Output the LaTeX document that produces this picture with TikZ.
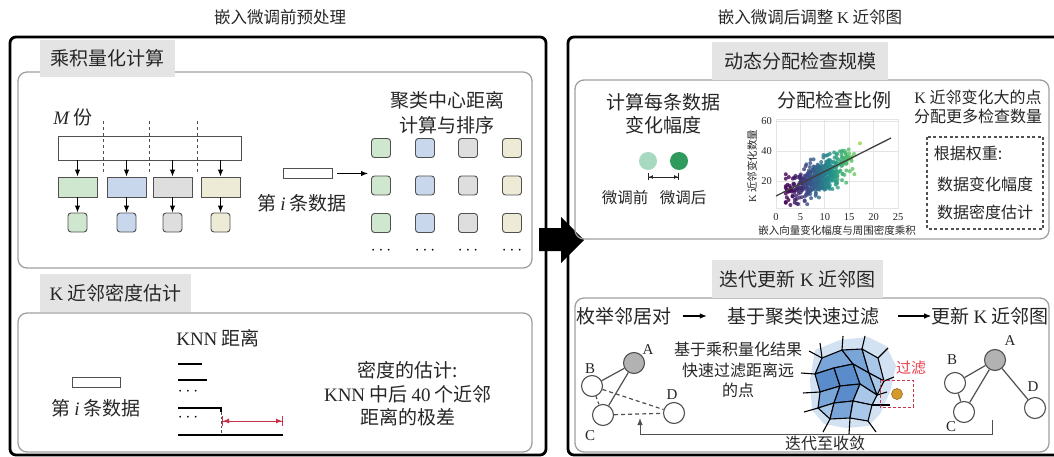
\documentclass[tikz,border=0pt]{standalone}
\usepackage{fontspec}
\setmainfont{Liberation Serif}
\newfontfamily\cjk{Noto Sans CJK SC}
\usetikzlibrary{arrows.meta,calc}
\newcommand{\setfs}[2]{\fontsize{#1}{#2}\selectfont}
\newcommand{\latrm}[1]{{\rmfamily #1}}
\newcommand{\latit}[1]{{\rmfamily\itshape #1}}
\definecolor{txt}{HTML}{262626}
\definecolor{labbg}{HTML}{E4E4E4}
\definecolor{boxgray}{HTML}{A0A0A0}
\definecolor{edgegray}{HTML}{505050}
\definecolor{cgreen}{HTML}{CFE6CF}
\definecolor{cblue}{HTML}{C9D7EC}
\definecolor{cgray}{HTML}{DEDEDE}
\definecolor{cyellow}{HTML}{EDEBD6}
\definecolor{vir0}{HTML}{440154}
\definecolor{vir1}{HTML}{3B528B}
\definecolor{vir2}{HTML}{21918C}
\definecolor{vir3}{HTML}{5EC962}
\definecolor{vir4}{HTML}{FDE725}
\definecolor{ltgreen}{HTML}{A6D9C0}
\definecolor{dkgreen}{HTML}{2E9A5C}
\definecolor{redc}{HTML}{C8324A}
\definecolor{redtxt}{HTML}{E8424F}
\definecolor{vdark}{HTML}{5A8CCB}
\definecolor{vmid}{HTML}{7AA5D8}
\definecolor{vlight}{HTML}{A9C7E9}
\definecolor{vhalo}{HTML}{D2E2F3}
\definecolor{orangedot}{HTML}{D59A2A}
\definecolor{gridc}{HTML}{E4E4E4}
\begin{document}
\begin{tikzpicture}[x=1pt,y=-1pt,
  outerbox/.style={draw=black, line width=2.8pt, rounded corners=6pt},
  innerbox/.style={draw=boxgray, line width=1.3pt, rounded corners=9pt},
  seclabel/.style={fill=labbg, inner sep=0, text=txt, font=\cjk\setfs{19}{23}},
  zh/.style={inner sep=0, text=txt, font=\cjk\setfs{19}{23}, align=center},
  zhs/.style={inner sep=0, text=txt, font=\cjk\setfs{16}{20}, align=center},
  sq/.style={draw=edgegray, line width=0.9pt, rounded corners=3pt, minimum width=19pt, minimum height=19pt, inner sep=0},
  barbox/.style={draw=edgegray, line width=0.9pt, minimum width=39pt, minimum height=20pt, inner sep=0},
  arr/.style={-{Latex[length=7pt,width=5.5pt]}, line width=1.1pt, draw=black},
  dotsn/.style={inner sep=0, font=\setfs{16}{16}},
  gnode/.style={circle, draw=edgegray, line width=1.1pt, minimum size=21pt, inner sep=0, fill=white},
  glab/.style={inner sep=0, text=txt, font=\setfs{15}{15}},
  gedge/.style={draw=edgegray, line width=1.2pt},
  tick/.style={inner sep=0, text=txt, font=\setfs{10.5}{10.5}},
  thickln/.style={line width=1.8pt, draw=black}
]
\useasboundingbox (0,0) rectangle (1054,457);
\fill[white] (0,0) rectangle (1054,457);

% titles
\node[inner sep=0, text=txt, font=\cjk\setfs{16.5}{16.5}] (t1) at (280,17) {嵌入微调前预处理};
\node[inner sep=0, text=txt, font=\cjk\setfs{16.5}{16.5}] (t2) at (810,17) {嵌入微调后调整 \latrm{K} 近邻图};

% ================= LEFT PANEL =================
\draw[outerbox] (10,37) rectangle (546,455);
\draw[innerbox] (18,72) rectangle (532,268);
\node[seclabel, minimum width=135pt, minimum height=37pt] (lab1) at (107.5,58.5) {乘积量化计算};
\draw[innerbox] (18,313) rectangle (532,452);
\node[seclabel, minimum width=151pt, minimum height=38pt] (lab2) at (115.5,293) {\latrm{K} 近邻密度估计};

% product quantization
\node[zh] (mfen) at (73,117) {\latit{M} 份};
\node[draw=edgegray, line width=0.9pt, minimum width=183pt, minimum height=24pt, inner sep=0] (big) at (149.5,148) {};
\foreach \dx in {103,149,197}{
  \draw[edgegray, line width=1pt, dash pattern=on 3.5pt off 2.5pt] (\dx,121) -- (\dx,172);
}
\node[barbox, fill=cgreen] (g1) at (77.5,187) {};
\node[barbox, fill=cblue] (g2) at (126.5,187) {};
\node[barbox, fill=cgray] (g3) at (172.5,187) {};
\node[barbox, fill=cyellow] (g4) at (220.5,187) {};
\node[sq, fill=cgreen] (s1) at (77.5,222.5) {};
\node[sq, fill=cblue] (s2) at (126.5,222.5) {};
\node[sq, fill=cgray] (s3) at (172.5,222.5) {};
\node[sq, fill=cyellow] (s4) at (220.5,222.5) {};
\foreach \k in {1,2,3,4}{
  \draw[arr] (g\k.north |- big.south) -- (g\k.north);
  \draw[arr] (g\k.south) -- (s\k.north);
}
\node[draw=edgegray, line width=0.9pt, minimum width=49pt, minimum height=10pt, inner sep=0] (in1) at (307.5,173.5) {};
\coordinate (in1tip) at (368,173.5);
\draw[arr] ([xshift=5pt]in1.east) -- (in1tip);
\node[zh] (in1lab) at (302,203) {第 \latit{i} 条数据};
\node[zh, font=\cjk\setfs{19}{25}] (clus) at (447,112.5) {聚类中心距离\\计算与排序};
\foreach \cx/\cc [count=\ci] in {381/cgreen,425/cblue,468/cgray,512/cyellow}{
  \foreach \ry [count=\ri] in {148,185.5,223}{
    \node[sq, fill=\cc] (m\ci\ri) at (\cx,\ry) {};
  }
  \node[dotsn] (dd\ci) at (\cx,251) {$\cdots$};
}

% KNN density
\node[draw=edgegray, line width=0.9pt, minimum width=48pt, minimum height=10pt, inner sep=0] (in2) at (96,382) {};
\node[zh] (in2lab) at (96,408) {第 \latit{i} 条数据};
\node[zh] (knnlab) at (218,338) {\latrm{KNN} 距离};
\draw[thickln] (178,364) -- (202,364);
\draw[thickln] (178,380) -- (207,380);
\node[dotsn] (kd1) at (188,392) {$\cdots$};
\draw[thickln] (178,408) -- (221,408) -- (221,412);
\draw[edgegray, line width=0.9pt, dash pattern=on 2.5pt off 2pt] (221,412) -- (221,435);
\node[dotsn] (kd2) at (188,418) {$\cdots$};
\draw[thickln] (178,435) -- (283,435);
\draw[redc, line width=1pt, {Bar[width=10pt]Latex[length=6pt,width=5pt]}-{Latex[length=6pt,width=5pt]Bar[width=10pt]}] (222,421) -- (283,421);
\node[zh, font=\cjk\setfs{19}{23.5}] (dens) at (408,394) {密度的估计:\\\latrm{KNN} 中后 \latrm{40} 个近邻\\距离的极差};

% big arrow between panels
\fill[black] (539,228) -- (561,228) -- (561,217) -- (584,240) -- (561,263) -- (561,251) -- (539,251) -- cycle;

% ================= RIGHT PANEL =================
\draw[outerbox] (568,37) rectangle (1060,455);
\draw[innerbox] (575,80) rectangle (1049,239);
\node[seclabel, minimum width=176pt, minimum height=38pt] (lab3) at (800,61) {动态分配检查规模};
\draw[innerbox] (575,298) rectangle (1049,452);
\node[seclabel, minimum width=171pt, minimum height=38pt] (lab4) at (797.5,279) {迭代更新 \latrm{K} 近邻图};

% change magnitude
\node[zh] (chg) at (663,113.5) {计算每条数据\\变化幅度};
\node[circle, fill=ltgreen, minimum size=18pt, inner sep=0] (cb) at (648,161) {};
\node[circle, fill=dkgreen, minimum size=18pt, inner sep=0] (ca) at (679,161) {};
\draw[txt, line width=0.9pt, {Bar[width=7pt]Latex[length=4pt,width=4pt]}-{Latex[length=4pt,width=4pt]Bar[width=7pt]}] ([yshift=-16pt]cb.center) -- ([yshift=-16pt]ca.center);
\node[zh, font=\cjk\setfs{15.5}{15.5}] (before) at (625,198) {微调前};
\node[zh, font=\cjk\setfs{15.5}{15.5}] (after) at (683,198) {微调后};

% ratio plot
\node[zh] (ratio) at (834,100) {分配检查比例};
\begin{scope}
  \foreach \gx in {776,800.4,824.8,849.2,873.6,898}{
    \draw[gridc, line width=0.7pt] (\gx,119) -- (\gx,208);
  }
  \foreach \gy in {121,151,181}{
    \draw[gridc, line width=0.7pt] (776,\gy) -- (898,\gy);
  }
  \draw[gridc, line width=0.7pt] (776,119) rectangle (898,208);
  \pgfmathsetseed{11}
  \foreach \i in {1,...,460}{
    \pgfmathsetmacro{\xv}{8.6+3.2*(rand+rand+rand)}
    \pgfmathsetmacro{\xv}{max(2.0,min(21.5,\xv))}
    \pgfmathsetmacro{\yv}{9+1.6*\xv+5.6*(rand+rand+rand)}
    \pgfmathsetmacro{\yv}{max(4,min(58,\yv))}
    \pgfmathsetmacro{\tv}{max(0,min(0.999,(\xv-2.5)/17.5))*4}
    \pgfmathtruncatemacro{\kv}{floor(\tv)}
    \pgfmathtruncatemacro{\pv}{round(100*(1-(\tv-\kv)))}
    \ifcase\kv \colorlet{pc}{vir0!\pv!vir1}\or \colorlet{pc}{vir1!\pv!vir2}\or \colorlet{pc}{vir2!\pv!vir3}\else \colorlet{pc}{vir3!\pv!vir4}\fi
    \fill[pc, opacity=0.8] (776+4.88*\xv, 211-1.5*\yv) circle (2pt);
  }
  \draw[black!75, line width=1.3pt] (776,196) -- (891,138);
\end{scope}
\foreach \lab/\gx in {0/776,5/800.4,10/824.8,15/849.2,20/873.6,25/898}{
  \node[tick] (xt\lab) at (\gx,217) {\lab};
}
\foreach \lab/\gy in {60/121,40/151,20/181}{
  \node[tick, anchor=east] (yt\lab) at (772,\gy) {\lab};
}
\node[inner sep=0, text=txt, font=\cjk\setfs{10.5}{10.5}, rotate=90] (ylab) at (752,166) {\latrm{K} 近邻变化数量};
\node[inner sep=0, text=txt, font=\cjk\setfs{10.5}{10.5}] (xlab) at (837,230) {嵌入向量变化幅度与周围密度乘积};

% allocation text
\node[zhs, font=\cjk\setfs{16}{18.5}] (alloc) at (978,107) {\latrm{K} 近邻变化大的点\\分配更多检查数量};
\draw[edgegray, line width=1.2pt, dash pattern=on 3pt off 2.5pt] (927,137) rectangle (1043,229);
\node[zhs] (wt) at (968,153) {根据权重:};
\node[zhs] (w1) at (985,184) {数据变化幅度};
\node[zhs] (w2) at (985,212) {数据密度估计};

% iterative update
\node[zh] (st1) at (624,316) {枚举邻居对};
\node[zh] (st2) at (803,316) {基于聚类快速过滤};
\node[zh] (st3) at (990,316) {更新 \latrm{K} 近邻图};
\draw[arr] ([xshift=11pt]st1.east) -- ([xshift=-20pt]st2.west);
\draw[arr] ([xshift=19pt]st2.east) -- (st3.west);

% left graph
\node[gnode, fill=black!30] (A1) at (634,363) {};
\node[gnode] (B1) at (592,386) {};
\node[gnode] (C1) at (603,415) {};
\node[gnode] (D1) at (674,413) {};
\draw[gedge] (A1) -- (B1);
\draw[gedge] (A1) -- (C1);
\draw[gedge, dash pattern=on 4pt off 3pt] (B1) -- (D1);
\draw[gedge, dash pattern=on 4pt off 3pt] (C1) -- (D1);
\draw[gedge, dash pattern=on 3pt off 2.5pt] (B1) -- (C1);
\node[glab] (lA1) at (648,350) {A};
\node[glab] (lB1) at (590,369) {B};
\node[glab] (lC1) at (590,436) {C};
\node[glab] (lD1) at (672,395) {D};

\node[zhs, font=\cjk\setfs{16}{20.5}] (pqtxt) at (738,370) {基于乘积量化结果\\快速过滤距离远\\的点};

% voronoi cluster
\begin{scope}[line width=1.1pt, line join=round]
  \fill[vhalo] (815,350) -- (840,340) -- (868,337) -- (886,346) -- (896,366) -- (890,392) -- (880,414) -- (868,426) -- (846,428) -- (824,424) -- (812,410) -- (810,380) -- cycle;
  \coordinate (v1) at (822,358);
  \coordinate (v2) at (842,350);
  \coordinate (v3) at (862,349);
  \coordinate (v4) at (878,358);
  \coordinate (v5) at (815,374);
  \coordinate (v6) at (834,368);
  \coordinate (v7) at (853,364);
  \coordinate (v8) at (869,373);
  \coordinate (v9) at (884,381);
  \coordinate (v10) at (820,392);
  \coordinate (v11) at (840,386);
  \coordinate (v12) at (860,384);
  \coordinate (v13) at (877,395);
  \coordinate (v14) at (818,408);
  \coordinate (v15) at (834,403);
  \coordinate (v16) at (853,401);
  \coordinate (v17) at (872,405);
  \coordinate (v18) at (830,419);
  \coordinate (v19) at (850,418);
  \coordinate (v20) at (868,421);
  \filldraw[fill=vmid] (v1) -- (v2) -- (v7) -- (v6) -- (v5) -- cycle;
  \filldraw[fill=vmid] (v2) -- (v3) -- (v8) -- (v7) -- cycle;
  \filldraw[fill=vlight] (v3) -- (v4) -- (v9) -- (v8) -- cycle;
  \filldraw[fill=vdark] (v5) -- (v6) -- (v11) -- (v10) -- cycle;
  \filldraw[fill=vdark] (v6) -- (v7) -- (v12) -- (v11) -- cycle;
  \filldraw[fill=vmid] (v7) -- (v8) -- (v13) -- (v12) -- cycle;
  \filldraw[fill=vlight] (v8) -- (v9) -- (v13) -- cycle;
  \filldraw[fill=vmid] (v10) -- (v11) -- (v15) -- (v14) -- cycle;
  \filldraw[fill=vdark] (v11) -- (v12) -- (v16) -- (v15) -- cycle;
  \filldraw[fill=vlight] (v12) -- (v13) -- (v17) -- (v16) -- cycle;
  \filldraw[fill=vlight] (v14) -- (v15) -- (v18) -- cycle;
  \filldraw[fill=vmid] (v15) -- (v16) -- (v19) -- (v18) -- cycle;
  \filldraw[fill=vlight] (v16) -- (v17) -- (v20) -- (v19) -- cycle;
  \draw (v1) -- (809,351);
  \draw (v1) -- (820,343);
  \draw (v2) -- (843,336);
  \draw (v3) -- (865,336);
  \draw (v4) -- (888,348);
  \draw (v5) -- (801,373);
  \draw (v10) -- (803,393);
  \draw (v14) -- (804,412);
  \draw (v18) -- (823,432);
  \draw (v19) -- (849,434);
  \draw (v20) -- (876,432);
  \draw (v9) -- (894,377);
  \draw (v13) -- (887,392);
  \draw (v17) -- (890,405);
\end{scope}
\node[inner sep=0, text=redtxt, font=\cjk\setfs{15}{15}] (filt) at (911,368) {过滤};
\draw[redc, line width=1pt, dash pattern=on 3pt off 2pt] (880,380) rectangle (913,407);
\node[circle, fill=orangedot, draw=orangedot!60!black, line width=0.5pt, minimum size=11pt, inner sep=0] (odot) at (897,394) {};

% right graph
\node[gnode, fill=black!30] (A2) at (995,360) {};
\node[gnode] (B2) at (955,383) {};
\node[gnode] (C2) at (964,412) {};
\node[gnode] (D2) at (1035,408) {};
\draw[gedge] (A2) -- (B2);
\draw[gedge] (A2) -- (C2);
\draw[gedge] (A2) -- (D2);
\draw[gedge] (B2) -- (C2);
\node[glab] (lA2) at (1010,341) {A};
\node[glab] (lB2) at (952,360) {B};
\node[glab] (lC2) at (951,427) {C};
\node[glab] (lD2) at (1033,387) {D};

% feedback loop
\coordinate (fbs) at (992,420);
\coordinate (fbe) at (640,418);
\draw[arr, line width=0.9pt, draw=edgegray] (fbs) -- ++(0,14) -| (fbe);
\node[zhs] (conv) at (825,443) {迭代至收敛};
\end{tikzpicture}
\end{document}
